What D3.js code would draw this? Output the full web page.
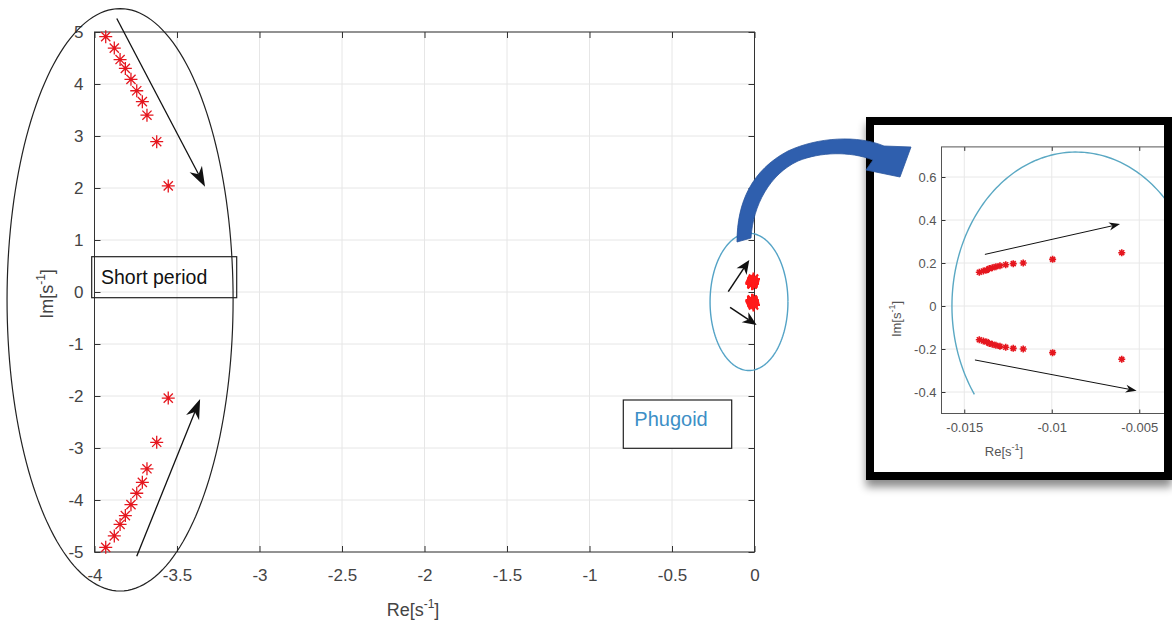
<!DOCTYPE html>
<html>
<head>
<meta charset="utf-8">
<script src="https://cdn.jsdelivr.net/npm/d3@7"></script>
<style>
  body { margin: 0; background: #fff; }
  svg { display: block; font-family: "Liberation Sans", Arial, sans-serif; }
</style>
</head>
<body>
<svg id="chart" width="1172" height="623"></svg>
<script>
// short period poles (upper branch, lower branch is the conjugate)
const spRe = [-3.932, -3.880, -3.845, -3.813, -3.779, -3.744, -3.710, -3.682, -3.623, -3.553];
const spIm = [4.91, 4.69, 4.47, 4.30, 4.09, 3.87, 3.66, 3.40, 2.89, 2.04];
// phugoid poles (upper branch)
const phRe = [-0.01414, -0.01391, -0.01372, -0.01357, -0.0134, -0.01319, -0.01296, -0.01263, -0.0122, -0.01163, -0.00995, -0.0060];
const phIm = [0.157, 0.163, 0.167, 0.174, 0.178, 0.183, 0.187, 0.192, 0.197, 0.200, 0.217, 0.248];

const mainXTicks = [-4, -3.5, -3, -2.5, -2, -1.5, -1, -0.5, 0];
const mainYTicks = [-5, -4, -3, -2, -1, 0, 1, 2, 3, 4, 5];
const insetXTicks = [-0.015, -0.01, -0.005];
const insetYTicks = [-0.4, -0.2, 0, 0.2, 0.4, 0.6];

const svg = d3.select("#chart");

function withConj(re, im) {
    return re.map((r, i) => ({re: r, im: im[i]}))
        .concat(re.map((r, i) => ({re: r, im: -im[i]})));
}

function starPath(r) {
    const a = r * 0.7071;
    return `M${-r},0L${r},0M0,${-r}L0,${r}M${-a},${-a}L${a},${a}M${-a},${a}L${a},${-a}`;
}

// line + filled (notched) arrow head, in pixel space
function arrow(g, x0, y0, x1, y1, len, wid, width) {
    const dx = x1 - x0, dy = y1 - y0, L = Math.hypot(dx, dy);
    const ux = dx / L, uy = dy / L, nx = -uy, ny = ux;
    const bx = x1 - ux * len, by = y1 - uy * len;
    const mx = x1 - ux * len * 0.7, my = y1 - uy * len * 0.7;
    g.append("line").attr("x1", x0).attr("y1", y0).attr("x2", mx).attr("y2", my)
        .attr("stroke", "#111").attr("stroke-width", width);
    g.append("path")
        .attr("d", `M${x1},${y1}L${bx + nx * wid / 2},${by + ny * wid / 2}L${mx},${my}L${bx - nx * wid / 2},${by - ny * wid / 2}Z`)
        .attr("fill", "#111");
}

// screen-space ellipse points (angles in degrees, y downwards)
function ellipsePts(cx, cy, rx, ry, a0, a1) {
    return d3.range(0, 181).map(i => {
        const t = (a0 + (a1 - a0) * i / 180) * Math.PI / 180;
        return [cx + rx * Math.cos(t), cy + ry * Math.sin(t)];
    });
}

// ---------------- main plot ----------------
const x = d3.scaleLinear().domain([-4, 0]).range([94.5, 754.5]);
const y = d3.scaleLinear().domain([-5, 5]).range([552, 32]);
const main = svg.append("g");

main.selectAll(".gx").data(mainXTicks).enter().append("line")
    .attr("x1", d => x(d)).attr("x2", d => x(d)).attr("y1", y(-5)).attr("y2", y(5))
    .attr("stroke", "#e6e6e6");
main.selectAll(".gy").data(mainYTicks).enter().append("line")
    .attr("y1", d => y(d)).attr("y2", d => y(d)).attr("x1", x(-4)).attr("x2", x(0))
    .attr("stroke", "#e6e6e6");

function styleAxis(g, size, col) {
    g.select(".domain").remove();
    g.selectAll(".tick line").attr("stroke", "#333");
    g.selectAll(".tick text").attr("fill", col).attr("font-size", size);
}

main.append("g").attr("transform", `translate(0,${y(-5)})`)
    .call(d3.axisBottom(x).tickValues(mainXTicks).tickFormat(d => String(d)).tickSizeInner(-6).tickSizeOuter(0).tickPadding(17))
    .call(g => styleAxis(g, 17, "#444"));
main.append("g").attr("transform", `translate(${x(-4)},0)`)
    .call(d3.axisLeft(y).tickValues(mainYTicks).tickFormat(d => String(d)).tickSizeInner(-6).tickSizeOuter(0).tickPadding(11))
    .call(g => styleAxis(g, 17, "#444"));
main.append("g").attr("transform", `translate(0,${y(5)})`)
    .call(d3.axisTop(x).tickValues(mainXTicks).tickFormat("").tickSizeInner(-6).tickSizeOuter(0))
    .call(g => styleAxis(g, 17, "#444"));
main.append("g").attr("transform", `translate(${x(0)},0)`)
    .call(d3.axisRight(y).tickValues(mainYTicks).tickFormat("").tickSizeInner(-6).tickSizeOuter(0))
    .call(g => styleAxis(g, 17, "#444"));
main.append("rect").attr("x", x(-4)).attr("y", y(5))
    .attr("width", x(0) - x(-4)).attr("height", y(-5) - y(5))
    .attr("fill", "none").attr("stroke", "#333");

// axis labels
const xl = main.append("text").attr("x", 413).attr("y", 616).attr("text-anchor", "middle")
    .attr("font-size", 18).attr("fill", "#444").text("Re[s");
xl.append("tspan").attr("font-size", 12).attr("dy", -8).text("-1");
xl.append("tspan").attr("dy", 8).text("]");
const yl = main.append("text").attr("transform", "translate(53,294) rotate(-90)").attr("text-anchor", "middle")
    .attr("font-size", 18).attr("fill", "#444").text("Im[s");
yl.append("tspan").attr("font-size", 12).attr("dy", -8).text("-1");
yl.append("tspan").attr("dy", 8).text("]");

// poles
main.selectAll(".sp").data(withConj(spRe, spIm)).enter().append("path")
    .attr("transform", d => `translate(${x(d.re)},${y(d.im)})`)
    .attr("d", starPath(6.5)).attr("stroke", "#e5161e").attr("stroke-width", 1.3).attr("fill", "none");
main.selectAll(".ph").data(withConj(phRe, phIm)).enter().append("path")
    .attr("transform", d => `translate(${x(d.re)},${y(d.im)})`)
    .attr("d", starPath(6.5)).attr("stroke", "#ff1a1a").attr("stroke-width", 2.2).attr("fill", "none");

// annotations: ellipses, arrows, text boxes
const line = d3.line();
main.append("path").attr("d", line(ellipsePts(x(-3.845), y(-0.15), x(0.685) - x(0), y(0) - y(5.6), 0, 360)))
    .attr("fill", "none").attr("stroke", "#222").attr("stroke-width", 1.2);
main.append("path").attr("d", line(ellipsePts(x(-0.0333), y(-0.19), x(0.236) - x(0), y(0) - y(1.32), 0, 360)))
    .attr("fill", "none").attr("stroke", "#54a3c6").attr("stroke-width", 1.4);

arrow(main, x(-3.865), y(5.26), x(-3.33), y(2.025), 20, 14, 1.3);
arrow(main, x(-3.744), y(-5.08), x(-3.36), y(-2.06), 20, 14, 1.3);
arrow(main, x(-0.159), y(0.006), x(-0.0315), y(0.615), 14, 12, 1.5);
arrow(main, x(-0.148), y(-0.294), x(0.013), y(-0.635), 14, 12, 1.5);

main.append("rect").attr("x", 91.7).attr("y", 256.7).attr("width", 145).attr("height", 41)
    .attr("fill", "none").attr("stroke", "#222").attr("stroke-width", 1.2);
main.append("text").attr("x", 101).attr("y", 284).attr("font-size", 19.5).attr("fill", "#111").text("Short period");
main.append("rect").attr("x", 623.3).attr("y", 400).attr("width", 108.4).attr("height", 48.3)
    .attr("fill", "#fff").attr("stroke", "#222").attr("stroke-width", 1.2);
main.append("text").attr("x", 671).attr("y", 426).attr("text-anchor", "middle")
    .attr("font-size", 20).attr("fill", "#3d8fc6").text("Phugoid");

// ---------------- inset ----------------
const defs = svg.append("defs");
const f = defs.append("filter").attr("id", "shadow").attr("x", "-10%").attr("y", "-10%").attr("width", "130%").attr("height", "130%");
f.append("feDropShadow").attr("dx", 0).attr("dy", 7).attr("stdDeviation", 4).attr("flood-color", "#000").attr("flood-opacity", 0.45);
defs.append("clipPath").attr("id", "insetClip").append("rect")
    .attr("x", 874).attr("y", 125).attr("width", 290).attr("height", 347);

const inset = svg.append("g");
inset.append("rect").attr("x", 870).attr("y", 121).attr("width", 298).attr("height", 355)
    .attr("fill", "#fff").attr("stroke", "#000").attr("stroke-width", 8).attr("filter", "url(#shadow)");

const ix = d3.scaleLinear().domain([-0.0163, -0.0035]).range([941.5, 1165.5]);
const iy = d3.scaleLinear().domain([-0.5, 0.74]).range([413.5, 146.9]);
const ig = inset.append("g").attr("clip-path", "url(#insetClip)");

ig.selectAll(".igx").data(insetXTicks).enter().append("line")
    .attr("x1", d => ix(d)).attr("x2", d => ix(d)).attr("y1", iy(-0.5)).attr("y2", iy(0.74))
    .attr("stroke", "#e8e8e8");
ig.selectAll(".igy").data(insetYTicks).enter().append("line")
    .attr("y1", d => iy(d)).attr("y2", d => iy(d)).attr("x1", ix(-0.0163)).attr("x2", ix(-0.0035))
    .attr("stroke", "#e8e8e8");

ig.append("g").attr("transform", `translate(0,${iy(-0.5)})`)
    .call(d3.axisBottom(ix).tickValues(insetXTicks).tickFormat(d => String(d)).tickSizeInner(-4).tickSizeOuter(0).tickPadding(9))
    .call(g => styleAxis(g, 13, "#555"));
ig.append("g").attr("transform", `translate(${ix(-0.0163)},0)`)
    .call(d3.axisLeft(iy).tickValues(insetYTicks).tickFormat(d => String(d)).tickSizeInner(-4).tickSizeOuter(0).tickPadding(5))
    .call(g => styleAxis(g, 13, "#555"));
ig.append("g").attr("transform", `translate(0,${iy(0.74)})`)
    .call(d3.axisTop(ix).tickValues(insetXTicks).tickFormat("").tickSizeInner(-4).tickSizeOuter(0))
    .call(g => styleAxis(g, 13, "#555"));
ig.append("rect").attr("x", ix(-0.0163)).attr("y", iy(0.74))
    .attr("width", ix(-0.0035) - ix(-0.0163)).attr("height", iy(-0.5) - iy(0.74))
    .attr("fill", "none").attr("stroke", "#555");

// phugoid circle arc (lower-left, over the top, out on the right)
ig.append("path").attr("d", line(ellipsePts(ix(-0.008617), iy(0), ix(0.007086) - ix(0), iy(0) - iy(0.716), 145, 400)))
    .attr("fill", "none").attr("stroke", "#5aa8c3").attr("stroke-width", 1.4);

ig.selectAll(".iph").data(withConj(phRe, phIm)).enter().append("path")
    .attr("transform", d => `translate(${ix(d.re)},${iy(d.im)})`)
    .attr("d", starPath(3.5)).attr("stroke", "#e5161e").attr("stroke-width", 1.6).attr("fill", "none");

arrow(ig, ix(-0.01382), iy(0.240), ix(-0.0061), iy(0.381), 11, 8, 1);
arrow(ig, ix(-0.01439), iy(-0.251), ix(-0.00515), iy(-0.394), 11, 8, 1);

const ixl = inset.append("text").attr("x", 1004).attr("y", 456).attr("text-anchor", "middle")
    .attr("font-size", 13).attr("fill", "#555").text("Re[s");
ixl.append("tspan").attr("font-size", 9).attr("dy", -6).text("-1");
ixl.append("tspan").attr("dy", 6).text("]");
const iyl = inset.append("text").attr("transform", "translate(901,319) rotate(-90)").attr("text-anchor", "middle")
    .attr("font-size", 13).attr("fill", "#555").text("Im[s");
iyl.append("tspan").attr("font-size", 9).attr("dy", -6).text("-1");
iyl.append("tspan").attr("dy", 6).text("]");

// ---------------- curved blue callout arrow ----------------
svg.append("path")
    .attr("d", "M737,242 C737,202 752,170 788,151 C818,137 858,135 884,146 L911,147 L900,177 L866,170 L873,160 C850,151 820,152 798,161 C770,174 753,205 751,238 Z")
    .attr("fill", "#2f5fae").attr("stroke", "#2a559d").attr("stroke-width", 0.8);
</script>
</body>
</html>
